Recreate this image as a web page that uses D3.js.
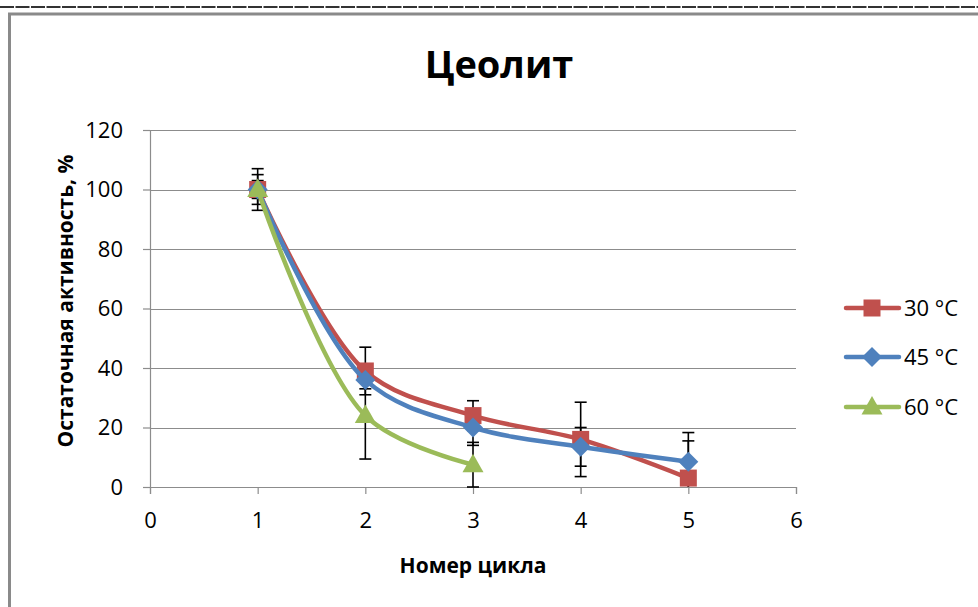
<!DOCTYPE html>
<html>
<head>
<meta charset="utf-8">
<script src="https://cdn.jsdelivr.net/npm/d3@7"></script>
<style>
  html, body { margin: 0; padding: 0; background: #fff; }
  svg { display: block; }
  text { font-family: "Open Sans", "Liberation Sans", sans-serif; fill: #000; }
</style>
</head>
<body>
<svg id="chart" width="978" height="607"></svg>
<script>
// Residual activity of the zeolite catalyst over reuse cycles
const cycles = [1, 2, 3, 4, 5];
const seriesNames = ["30 °C", "45 °C", "60 °C"];
const values30 = [100, 39, 24, 16, 3];
const values45 = [100, 36, 20, 13.5, 8.5];
const values60 = [100, 24, 7.5];
const err30 = [7, 8, 5, 12.5, 12.5];
const err45 = [5, 3, 6, 6.5, 9.8];
const err60 = [3, 14.6, 7.5];
const xTicks = [0, 1, 2, 3, 4, 5, 6];
const yTicks = [0, 20, 40, 60, 80, 100, 120];
const colors = ["#C0504D", "#4F81BD", "#9BBB59"];
const markers = ["square", "diamond", "triangle"];

const series = [values30, values45, values60].map((vals, i) => ({
  name: seriesNames[i],
  color: colors[i],
  marker: markers[i],
  points: vals.map((v, j) => ({ x: cycles[j], y: v, e: [err30, err45, err60][i][j] }))
}));

const svg = d3.select("#chart");

// outer frame
svg.append("line").attr("x1", 0).attr("x2", 978).attr("y1", 7).attr("y2", 7)
  .attr("stroke", "#333").attr("stroke-width", 2).attr("stroke-dasharray", "14 1.5");
svg.append("path").attr("d", "M9.5,607 V14 H978")
  .attr("fill", "none").attr("stroke", "#8a8a8a").attr("stroke-width", 3);

const x = d3.scaleLinear().domain([0, 6]).range([150, 796]);
const y = d3.scaleLinear().domain([0, 120]).range([487, 130]);

// gridlines
svg.append("g").selectAll("line").data(yTicks.filter(t => t > 0)).join("line")
  .attr("x1", x(0)).attr("x2", x(6))
  .attr("y1", d => Math.round(y(d)) + 0.5).attr("y2", d => Math.round(y(d)) + 0.5)
  .attr("stroke", "#8c8c8c").attr("stroke-width", 1.2);

// axes
const yAxis = svg.append("g").attr("transform", `translate(${x(0)},0)`)
  .call(d3.axisLeft(y).tickValues(yTicks).tickSize(7).tickPadding(20).tickFormat(d3.format("d")));
const xAxis = svg.append("g").attr("transform", `translate(0,${y(0)})`)
  .call(d3.axisBottom(x).tickValues(xTicks).tickSize(7).tickPadding(18).tickFormat(d3.format("d")));
[xAxis, yAxis].forEach(g => {
  g.select(".domain").attr("stroke", "#8c8c8c").attr("stroke-width", 1.2);
  g.selectAll(".tick line").attr("stroke", "#8c8c8c").attr("stroke-width", 1.2);
  g.selectAll(".tick text").attr("font-size", 22).attr("font-family", "'Open Sans', sans-serif").attr("fill", "#000");
});

// error bars
const eb = svg.append("g").attr("stroke", "#000").attr("stroke-width", 1.6).attr("fill", "none");
series.forEach(s => {
  s.points.forEach(p => {
    const hi = p.y + p.e, lo = Math.max(0, p.y - p.e);
    eb.append("line").attr("x1", x(p.x)).attr("x2", x(p.x)).attr("y1", y(hi)).attr("y2", y(lo));
    eb.append("line").attr("x1", x(p.x) - 6).attr("x2", x(p.x) + 6).attr("y1", y(hi)).attr("y2", y(hi));
    if (p.y - p.e >= 0)
      eb.append("line").attr("x1", x(p.x) - 6).attr("x2", x(p.x) + 6).attr("y1", y(lo)).attr("y2", y(lo));
  });
});

// marker shapes
function markerPath(type) {
  if (type === "square") return "M-8.5,-8.5H8.5V8.5H-8.5Z";
  if (type === "diamond") return "M0,-10L10,0L0,10L-10,0Z";
  return "M0,-11L10.5,7.5H-10.5Z";
}

const line = d3.line().x(d => x(d.x)).y(d => y(d.y)).curve(d3.curveCatmullRom.alpha(0.5));

series.forEach(s => {
  const g = svg.append("g");
  g.append("path").datum(s.points).attr("d", line)
    .attr("fill", "none").attr("stroke", s.color).attr("stroke-width", 4.5)
    .attr("stroke-linejoin", "round").attr("stroke-linecap", "round");
  g.selectAll("path.m").data(s.points).join("path").attr("class", "m")
    .attr("transform", d => `translate(${x(d.x)},${y(d.y)})`)
    .attr("d", markerPath(s.marker)).attr("fill", s.color);
});

// title
svg.append("text").attr("x", 499).attr("y", 78).attr("text-anchor", "middle")
  .attr("font-size", 38).attr("font-weight", "bold").text("Цеолит");

// axis titles
svg.append("text").attr("x", 473).attr("y", 573).attr("text-anchor", "middle")
  .attr("font-size", 21).attr("font-weight", "bold").text("Номер цикла");
svg.append("text").attr("transform", "translate(73,301) rotate(-90)").attr("text-anchor", "middle")
  .attr("font-size", 21).attr("font-weight", "bold").text("Остаточная активность, %");

// legend
const legY = [308, 357, 407];
series.forEach((s, i) => {
  const g = svg.append("g").attr("transform", `translate(0,${legY[i]})`);
  g.append("line").attr("x1", 846).attr("x2", 899).attr("y1", 0).attr("y2", 0)
    .attr("stroke", s.color).attr("stroke-width", 4.5).attr("stroke-linecap", "round");
  g.append("path").attr("transform", "translate(872,0)").attr("d", markerPath(s.marker)).attr("fill", s.color);
  g.append("text").attr("x", 904).attr("y", 0).attr("dy", "0.36em").attr("font-size", 22).text(s.name);
});
</script>
</body>
</html>
